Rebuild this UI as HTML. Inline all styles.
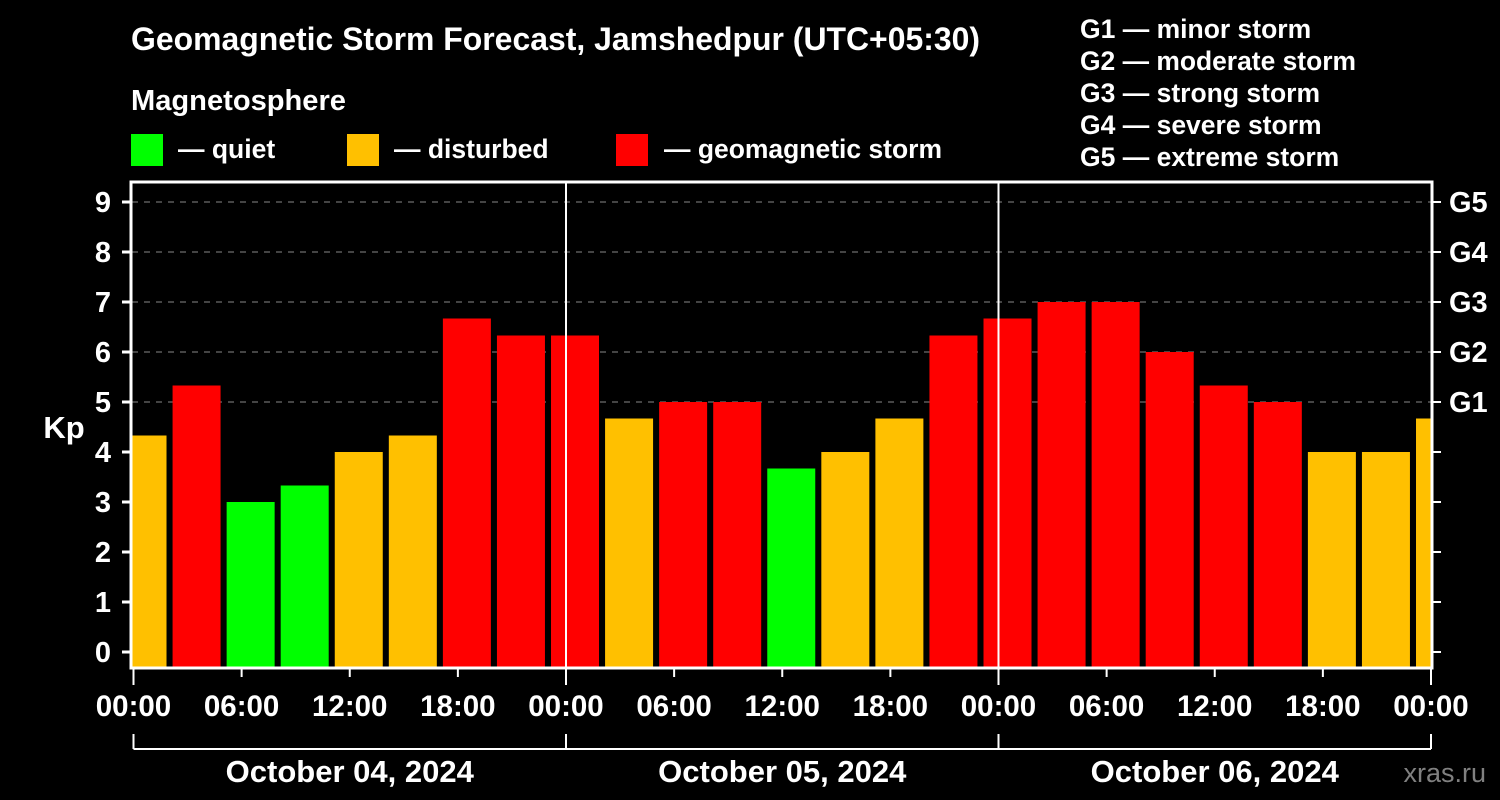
<!DOCTYPE html>
<html><head><meta charset="utf-8"><style>
html,body{margin:0;padding:0;background:#000;}
svg{display:block;font-family:"Liberation Sans",Arial,sans-serif;font-weight:bold;}
</style></head><body>
<svg id="chart" width="1500" height="800" viewBox="0 0 1500 800">
<rect width="1500" height="800" fill="#000"/>
<text x="131" y="50" fill="#fff" font-size="32" textLength="849" lengthAdjust="spacingAndGlyphs">Geomagnetic Storm Forecast, Jamshedpur (UTC+05:30)</text>
<text x="131" y="110" fill="#fff" font-size="29" textLength="215" lengthAdjust="spacingAndGlyphs">Magnetosphere</text>
<g><rect x="131" y="134" width="32" height="32" fill="#00ff00"/><text x="178" y="158" fill="#fff" font-size="26.5">— quiet</text></g>
<g><rect x="347" y="134" width="32" height="32" fill="#ffc000"/><text x="394" y="158" fill="#fff" font-size="26.5">— disturbed</text></g>
<g><rect x="616" y="134" width="32" height="32" fill="#ff0000"/><text x="664" y="158" fill="#fff" font-size="26.5" textLength="278" lengthAdjust="spacingAndGlyphs">— geomagnetic storm</text></g>
<g fill="#fff" font-size="26.5">
<text x="1080" y="38">G1 — minor storm</text>
<text x="1080" y="70" textLength="276" lengthAdjust="spacingAndGlyphs">G2 — moderate storm</text>
<text x="1080" y="102">G3 — strong storm</text>
<text x="1080" y="134">G4 — severe storm</text>
<text x="1080" y="166">G5 — extreme storm</text>
</g>
<text x="64" y="438" fill="#fff" font-size="31" text-anchor="middle">Kp</text>
<defs><clipPath id="plotclip"><rect x="132" y="182" width="1299" height="486"/></clipPath></defs>
<g id="grid"></g>
<g id="bars" clip-path="url(#plotclip)"></g>
<g id="axes"></g>
<text x="1486" y="782" fill="#808080" font-size="27" font-weight="normal" text-anchor="end">xras.ru</text>
</svg>
<script>
const kpValues = [4.33,5.33,3,3.33,4,4.33,6.67,6.33,6.33,4.67,5,5,3.67,4,4.67,6.33,6.67,7,7,6,5.33,5,4,4,4.67];
const barHours = [0.5,3.5,6.5,9.5,12.5,15.5,18.5,21.5,24.5,27.5,30.5,33.5,36.5,39.5,42.5,45.5,48.5,51.5,54.5,57.5,60.5,63.5,66.5,69.5,72.5];
const yTicks = [0,1,2,3,4,5,6,7,8,9];
const gLabels = ["G1","G2","G3","G4","G5"];
const gLevels = [5,6,7,8,9];
const xTickLabels = ["00:00","06:00","12:00","18:00","00:00","06:00","12:00","18:00","00:00","06:00","12:00","18:00","00:00"];
const dayLabels = ["October 04, 2024","October 05, 2024","October 06, 2024"];

const NS="http://www.w3.org/2000/svg";
const X0=133.5, PX_PER_H=432.5/24;
const xs=h=>X0+h*PX_PER_H;
const ys=v=>652-50*v;
function mk(tag,attrs,parent){const e=document.createElementNS(NS,tag);for(const k in attrs)e.setAttribute(k,attrs[k]);parent.appendChild(e);return e;}
const grid=document.getElementById('grid'),bars=document.getElementById('bars'),axes=document.getElementById('axes');
const color=v=>v>=5?'#ff0000':(v>=4?'#ffc000':'#00ff00');

gLevels.forEach(v=>{
 const l=mk('line',{x1:132,x2:1431,y1:ys(v),y2:ys(v),stroke:'#888','stroke-width':1,'stroke-dasharray':'6,6'},grid);
 
 
});
kpValues.forEach((v,i)=>{
 const c=xs(barHours[i]);
 const r=mk('rect',{x:c-24,y:ys(v),width:48,height:668-ys(v),fill:color(v)},bars);
 
 
});
[1,2].forEach(d=>{
 const l=mk('line',{x1:xs(24*d),x2:xs(24*d),y1:182,y2:668,stroke:'#fff','stroke-width':2},axes);
 
 
});
const fr=mk('rect',{x:131,y:182,width:1301,height:486,fill:'none',stroke:'#fff','stroke-width':3},axes);


yTicks.forEach(v=>{
 mk('line',{x1:122,x2:131,y1:ys(v),y2:ys(v),stroke:'#fff','stroke-width':3},axes);
 mk('line',{x1:1432,x2:1441,y1:ys(v),y2:ys(v),stroke:'#fff','stroke-width':2},axes);
 const t=mk('text',{x:103,y:ys(v)+10,fill:'#fff','font-size':29,'text-anchor':'middle'},axes);
 t.textContent=v;
 
 
});
gLevels.forEach((v,i)=>{
 const t=mk('text',{x:1449,y:ys(v)+10,fill:'#fff','font-size':29},axes);
 t.textContent=gLabels[i];
 
 
});
xTickLabels.forEach((s,i)=>{
 const x=xs(i*6);
 mk('line',{x1:x,x2:x,y1:668,y2:i%4===0?685:677,stroke:'#fff','stroke-width':2},axes);
 const t=mk('text',{x:x,y:716,fill:'#fff','font-size':29.5,'text-anchor':'middle'},axes);
 t.textContent=s;
 
 
});
mk('line',{x1:xs(0),x2:xs(72),y1:749,y2:749,stroke:'#fff','stroke-width':2},axes);
[0,1,2,3].forEach(d=>mk('line',{x1:xs(24*d),x2:xs(24*d),y1:734,y2:749,stroke:'#fff','stroke-width':2},axes));
dayLabels.forEach((s,i)=>{
 const t=mk('text',{x:xs(24*i+12),y:782,fill:'#fff','font-size':31,'text-anchor':'middle'},axes);
 t.textContent=s;
 
 
});
</script>
</body></html>
